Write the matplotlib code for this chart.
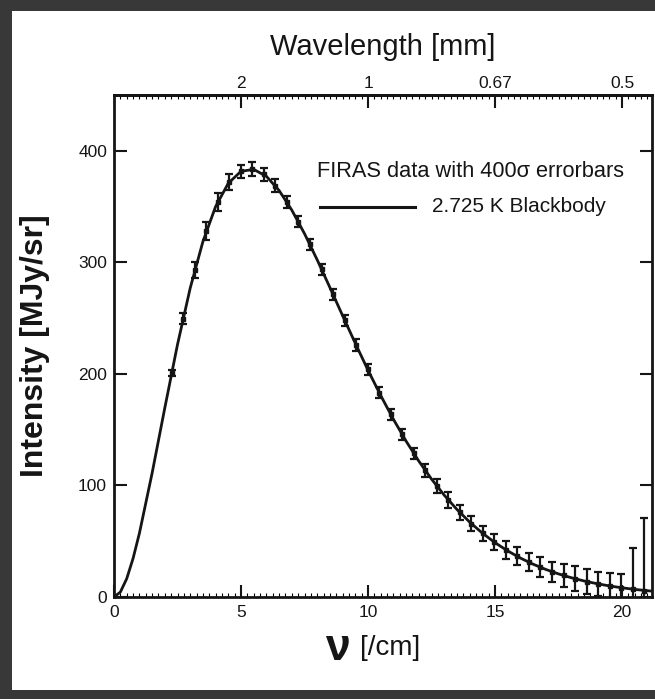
import matplotlib
matplotlib.use("Agg")
import matplotlib.pyplot as plt
from matplotlib.patches import Rectangle
from matplotlib.ticker import MultipleLocator, FixedLocator
from matplotlib import font_manager

plt.rcParams['font.family'] = ['Liberation Sans', 'DejaVu Sans']
names = {f.name for f in font_manager.fontManager.ttflist}
narrow = 'Liberation Sans Narrow' if 'Liberation Sans Narrow' in names else 'Liberation Sans'

# FIRAS data (frequency in /cm, intensity in MJy/sr, 400-sigma error in MJy/sr)
freq = [2.27, 2.72, 3.18, 3.63, 4.08, 4.54, 4.99, 5.45, 5.90, 6.35, 6.81, 7.26,
        7.71, 8.17, 8.62, 9.08, 9.53, 9.98, 10.44, 10.89, 11.34, 11.80, 12.25,
        12.71, 13.16, 13.61, 14.07, 14.52, 14.97, 15.43, 15.88, 16.34, 16.79,
        17.24, 17.70, 18.15, 18.61, 19.06, 19.51, 19.97, 20.42, 20.87, 21.33]
intensity = [200.7, 249.5, 293.0, 327.8, 354.1, 372.1, 381.5, 383.5, 378.9, 368.8,
             354.1, 336.3, 316.1, 293.9, 271.4, 248.2, 225.9, 204.3, 183.3, 163.8,
             145.8, 128.8, 113.6, 99.5, 87.0, 75.9, 65.8, 57.0, 49.2, 42.3, 36.4,
             31.1, 26.6, 22.6, 19.3, 16.4, 13.8, 11.7, 9.9, 8.4, 7.1, 5.8, 4.5]
err400 = [3, 5, 7, 8, 8, 7, 6, 6, 6, 6, 5, 5, 5, 5, 5, 5, 5, 5, 5, 5, 5, 5, 6,
          6, 7, 7, 7, 7, 7, 8, 8, 8, 9, 9, 10, 11, 11, 11, 12, 12, 37, 65, 80]

# 2.725 K blackbody curve
bb_freq = [0, 0.25, 0.5, 0.75, 1.0, 1.5, 2.0, 2.5, 3.0, 3.5, 4.0, 4.5, 5.0, 5.5,
           6.0, 6.5, 7.0, 7.5, 8.0, 8.5, 9.0, 9.5, 10.0, 10.5, 11.0, 11.5, 12.0,
           12.5, 13.0, 13.5, 14.0, 14.5, 15.0, 15.5, 16.0, 16.5, 17.0, 17.5,
           18.0, 18.5, 19.0, 19.5, 20.0, 20.5, 21.0, 21.5]
bb_int = [0, 4.4, 16.4, 34.5, 57.1, 111.0, 169.5, 226.3, 276.9, 318.6, 350.0,
          370.9, 381.6, 383.3, 377.1, 364.4, 346.8, 325.7, 302.2, 277.4, 252.2,
          227.4, 203.3, 180.6, 159.3, 139.7, 121.8, 105.7, 91.3, 78.5, 67.2,
          57.3, 48.7, 41.3, 34.9, 29.4, 24.7, 20.7, 17.3, 14.4, 12.0, 9.95,
          8.24, 6.82, 5.63, 4.64]

y_ticks = [0, 100, 200, 300, 400]
x_ticks = [0, 5, 10, 15, 20]
wl_ticks = [5, 10, 15, 20]
wl_labels = ['2', '1', '0.67', '0.5']

W, H = 655, 699
fig = plt.figure(figsize=(W / 100, H / 100), dpi=100)
fig.patch.set_facecolor('#383838')
fig.patches.append(Rectangle((12 / W, 1 - 690 / H), 1, (690 - 11) / H,
                             transform=fig.transFigure, facecolor='white',
                             edgecolor='none', zorder=-10))

ink = '#151515'
ax = fig.add_axes([114 / W, 1 - 597 / H, (652 - 114) / W, (597 - 95) / H])
ax.set_facecolor('white')
ax.set_xlim(0, 21.18)
ax.set_ylim(0, 450)

ax.plot(bb_freq, bb_int, color=ink, lw=2.0, zorder=3, clip_on=True)
ax.errorbar(freq, intensity, yerr=err400, fmt='s', ms=2.5, color=ink,
            ecolor=ink, elinewidth=1.6, capsize=3, capthick=1.6, zorder=4)

for s in ax.spines.values():
    s.set_linewidth(2.0)
    s.set_color(ink)

ax.xaxis.set_major_locator(FixedLocator(x_ticks))
ax.xaxis.set_minor_locator(MultipleLocator(0.25))
ax.yaxis.set_major_locator(FixedLocator(y_ticks))
ax.tick_params(axis='x', which='major', direction='in', length=9, width=1.5,
               top=False, labelsize=12.5, colors=ink, pad=6)
ax.tick_params(axis='x', which='minor', direction='in', length=3, width=0.8,
               top=True, bottom=True)
ax.tick_params(axis='y', which='major', direction='in', length=9, width=1.5,
               right=True, labelsize=12.5, colors=ink, pad=5)
for lab in ax.get_xticklabels() + ax.get_yticklabels():
    lab.set_family(narrow)

sec = ax.secondary_xaxis('top')
sec.xaxis.set_major_locator(FixedLocator(wl_ticks))
sec.set_xticklabels(wl_labels, family=narrow)
sec.tick_params(axis='x', direction='in', length=9, width=1.5, labelsize=12.5,
                colors=ink, pad=3)
sec.spines['top'].set_linewidth(2.0)
sec.set_xlabel('Wavelength [mm]', fontsize=21, color=ink, labelpad=15)

ax.set_ylabel('Intensity [MJy/sr]', fontsize=23, fontweight='bold', color=ink,
              labelpad=20)

fig.text(337 / W, 1 - 648 / H, 'ν', fontsize=32, fontweight='bold', color=ink,
         ha='center', va='center')
fig.text(360 / W, 1 - 648 / H, '[/cm]', fontsize=20, color=ink,
         ha='left', va='center')

ax.text(8.0, 381, 'FIRAS data with 400σ errorbars', fontsize=15.7, color=ink,
        ha='left', va='center')
ax.plot([8.1, 11.85], [350, 350], color=ink, lw=2.2)
ax.text(12.5, 350, '2.725 K Blackbody', fontsize=15, color=ink,
        ha='left', va='center')

fig.savefig('out.png', dpi=100, facecolor=fig.get_facecolor())
